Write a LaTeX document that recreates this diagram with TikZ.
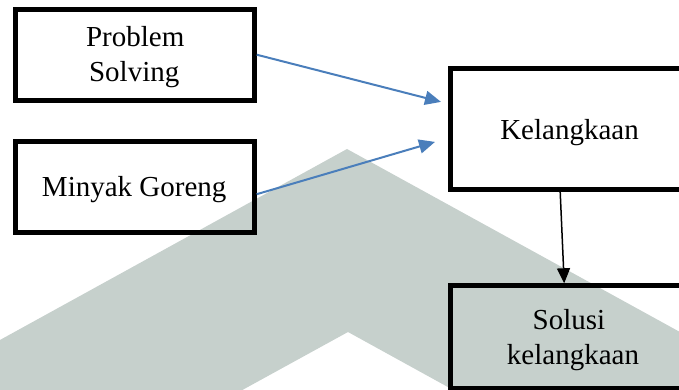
\documentclass[tikz,border=0pt]{standalone}
\usepackage{fontspec}
\setmainfont{Liberation Serif}
\usetikzlibrary{arrows.meta}
\definecolor{wm}{RGB}{198,208,204}
\definecolor{arrblue}{RGB}{74,126,187}
\begin{document}
\begin{tikzpicture}[x=1pt,y=-1pt,
  box/.style={draw=black, line width=5pt, inner sep=0pt},
  lbl/.style={font=\fontsize{29}{35}\selectfont, inner sep=0pt, anchor=base},
  bluearrow/.style={draw=arrblue, line width=2pt, -{Triangle[length=16pt,width=14pt]}},
  blackarrow/.style={draw=black, line width=1.5pt, -{Triangle[length=15pt,width=13pt]}}]
\useasboundingbox (0,0) rectangle (679,390);
\clip (0,0) rectangle (679,390);
% background watermark chevron
\fill[wm] (-100,395) -- (347,149) -- (800,398) -- (800,581) -- (348,332) -- (-100,578) -- cycle;
% boxes
\node[box, minimum width=238.4pt, minimum height=91pt] (ps) at (135,54.7) {};
\node[box, minimum width=238.4pt, minimum height=90.7pt] (mg) at (135,187.2) {};
\node[box, minimum width=300pt, minimum height=121.2pt] (kel) at (600.5,128.9) {};
\node[box, minimum width=300pt, minimum height=102.3pt] (sol) at (600.3,336.9) {};
% labels
\node[lbl] (psa) at (135.2,46.7) {Problem};
\node[lbl] (psb) at (134.2,81.7) {Solving};
\node[lbl] (mgl) at (134.2,196.7) {Minyak Goreng};
\node[lbl] (kell) at (569.5,139.3) {Kelangkaan};
\node[lbl] (sola) at (569,329.3) {Solusi};
\node[lbl] (solb) at (573,364) {kelangkaan};
% connectors
\draw[bluearrow] (ps.east) -- ([xshift=-7pt,yshift=27pt]kel.west);
\draw[bluearrow] ([yshift=-7pt]mg.east) -- ([xshift=-13pt,yshift=-13pt]kel.west);
\draw[blackarrow] ([xshift=112.2pt]kel.south west) -- ([xshift=116.4pt]sol.north west);
\end{tikzpicture}
\end{document}
